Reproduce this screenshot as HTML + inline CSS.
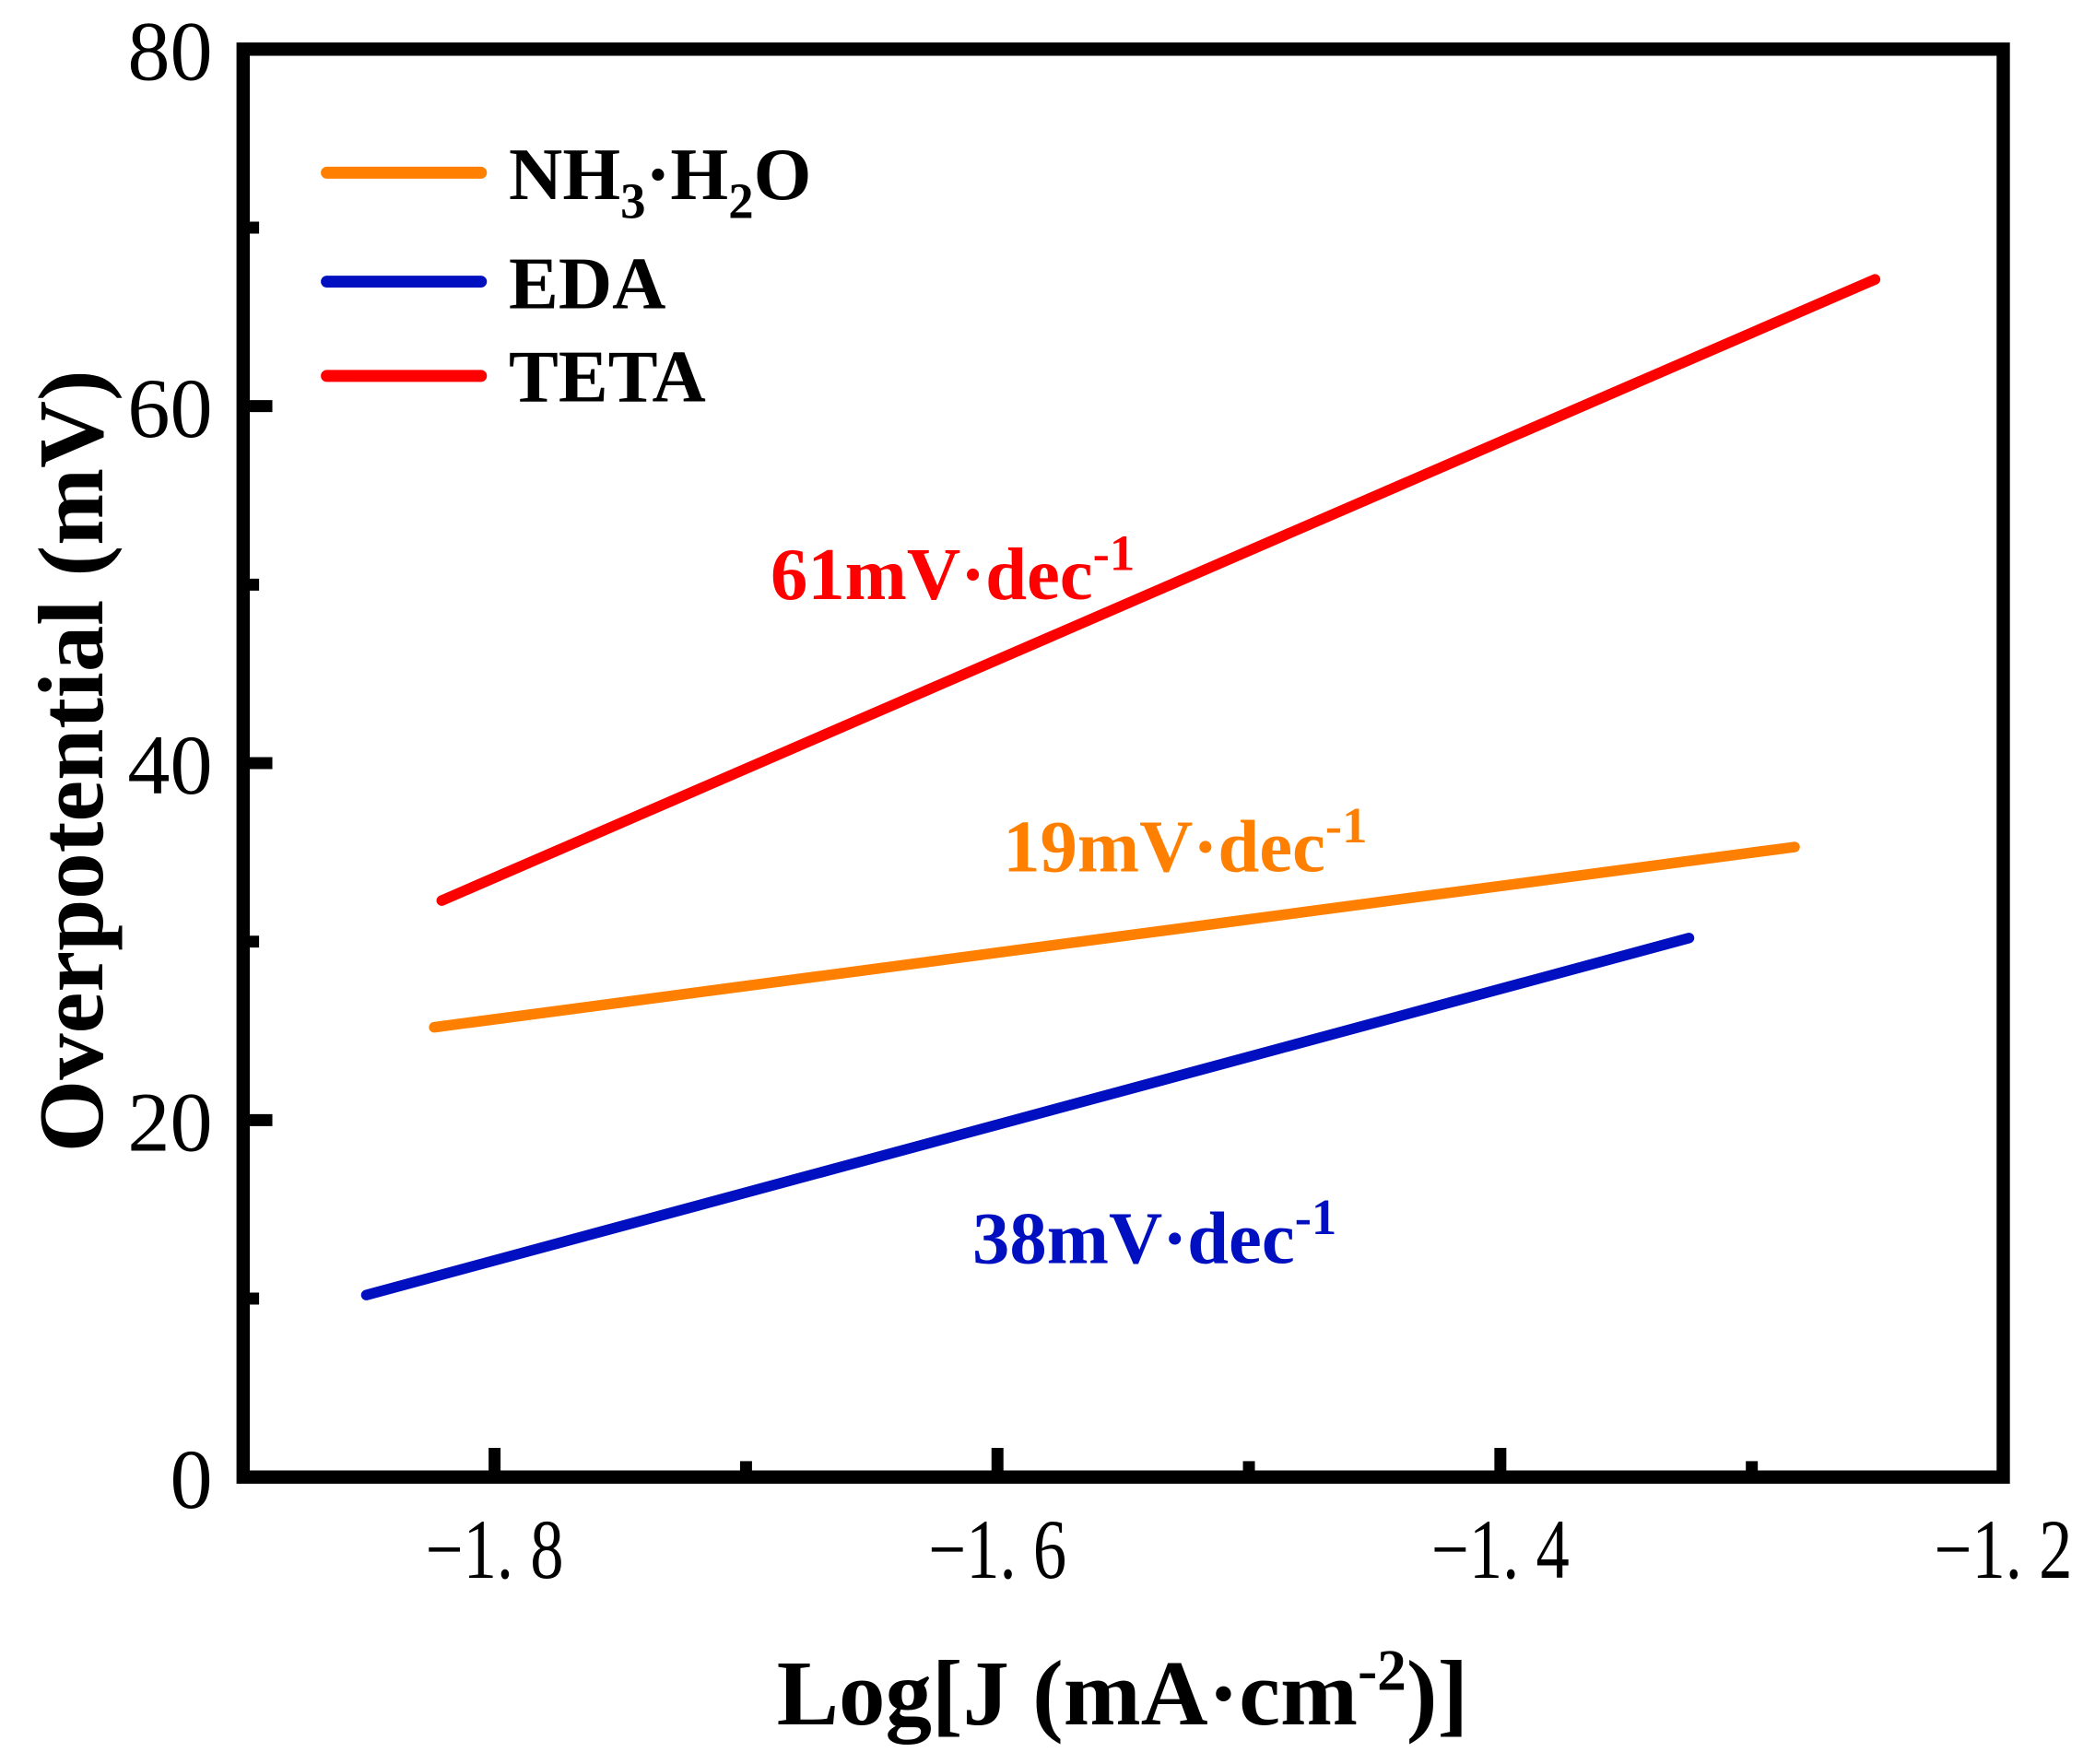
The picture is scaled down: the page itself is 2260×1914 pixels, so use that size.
<!DOCTYPE html>
<html><head><meta charset="utf-8"><style>
html,body{margin:0;padding:0;background:#fff}
svg{display:block}
text{font-family:"Liberation Serif",serif}
</style></head><body>
<svg id="chart" width="2260" height="1914" viewBox="0 0 1568 1328" xmlns="http://www.w3.org/2000/svg">
<g id="plot"></g>
<text transform="translate(77,573) rotate(-90)" text-anchor="middle" font-size="70" font-weight="bold">Overpotential (mV)</text>
<text x="845" y="1298" text-anchor="middle" font-size="70" font-weight="bold">Log[J (mA·cm<tspan dy="-26" font-size="44">-2</tspan><tspan dy="26">)]</tspan></text>
<g>
<line x1="246" y1="130" x2="362" y2="130" stroke="#ff8000" stroke-width="9" stroke-linecap="round"/>
<text x="383" y="150" font-size="56" font-weight="bold">NH<tspan dy="14" font-size="38">3</tspan><tspan dy="-14">·H</tspan><tspan dy="14" font-size="38">2</tspan><tspan dy="-14">O</tspan></text>
<line x1="246" y1="212" x2="362" y2="212" stroke="#0010c0" stroke-width="9" stroke-linecap="round"/>
<text x="383" y="232" font-size="56" font-weight="bold">EDA</text>
<line x1="246" y1="283" x2="362" y2="283" stroke="#ff0000" stroke-width="9" stroke-linecap="round"/>
<text x="383" y="302" font-size="56" font-weight="bold">TETA</text>
</g>
<text x="580" y="451" font-size="56" font-weight="bold" fill="#ff0000">61mV·dec<tspan dy="-22" font-size="38">-1</tspan></text>
<text x="755" y="656" font-size="56" font-weight="bold" fill="#ff8000">19mV·dec<tspan dy="-22" font-size="38">-1</tspan></text>
<text x="732" y="951" font-size="56" font-weight="bold" fill="#0010c0">38mV·dec<tspan dy="-22" font-size="38">-1</tspan></text>
</svg>
<script>
const seriesNames = ['NH3·H2O', 'EDA', 'TETA'];
const seriesColors = ['#ff8000', '#0010c0', '#ff0000'];
const nh3X = [-1.824, -1.283];
const nh3Y = [25.2, 35.3];
const edaX = [-1.851, -1.325];
const edaY = [10.2, 30.2];
const tetaX = [-1.821, -1.251];
const tetaY = [32.3, 67.1];
const xMajorTicks = [-1.8, -1.6, -1.4, -1.2];
const xMajorLabels = ['−1. 8', '−1. 6', '−1. 4', '−1. 2'];
const xMinorTicks = [-1.7, -1.5, -1.3];
const yMajorTicks = [0, 20, 40, 60, 80];
const yMinorTicks = [10, 30, 50, 70];

const L = 183, R = 1508, T = 37, B = 1112;
const xMin = -1.9, xMax = -1.2, yMin = 0, yMax = 80;
const sx = v => L + (v - xMin) / (xMax - xMin) * (R - L);
const sy = v => B - (v - yMin) / (yMax - yMin) * (B - T);
const NS = 'http://www.w3.org/2000/svg';
const plot = document.getElementById('plot');
function mk(tag, attrs) {
  const e = document.createElementNS(NS, tag);
  for (const k in attrs) e.setAttribute(k, attrs[k]);
  plot.appendChild(e);
  return e;
}
const allX = [nh3X, edaX, tetaX], allY = [nh3Y, edaY, tetaY];
const keys = ['nh3', 'eda', 'teta'];
for (let s = 0; s < 3; s++) {
  const pts = allX[s].map((x, i) => sx(x) + ',' + sy(allY[s][i])).join(' ');
  const pl = mk('polyline', {points: pts, fill: 'none', stroke: seriesColors[s], 'stroke-width': 8, 'stroke-linecap': 'round'});
  
  
}
xMajorTicks.forEach((v, i) => {
  const t = mk('line', {x1: sx(v), x2: sx(v), y1: B, y2: B - 22, stroke: '#000', 'stroke-width': 9});
  
  
  const lb = mk('text', {x: sx(v), y: 1188, 'text-anchor': 'middle', 'font-size': 64, textLength: 104, lengthAdjust: 'spacingAndGlyphs'});
  lb.textContent = xMajorLabels[i];
  
  
});
xMinorTicks.forEach(v => {
  const t = mk('line', {x1: sx(v), x2: sx(v), y1: B, y2: B - 12, stroke: '#000', 'stroke-width': 9});
  
  
});
yMajorTicks.forEach(v => {
  const t = mk('line', {x1: L, x2: L + 22, y1: sy(v), y2: sy(v), stroke: '#000', 'stroke-width': 9});
  
  
  const lb = mk('text', {x: 160, y: sy(v) + 23, 'text-anchor': 'end', 'font-size': 64});
  lb.textContent = String(v);
  
  
});
yMinorTicks.forEach(v => {
  const t = mk('line', {x1: L, x2: L + 12, y1: sy(v), y2: sy(v), stroke: '#000', 'stroke-width': 9});
  
  
});
const frame = mk('rect', {x: L, y: T, width: R - L, height: B - T, fill: 'none', stroke: '#000', 'stroke-width': 10});


</script>
</body></html>
